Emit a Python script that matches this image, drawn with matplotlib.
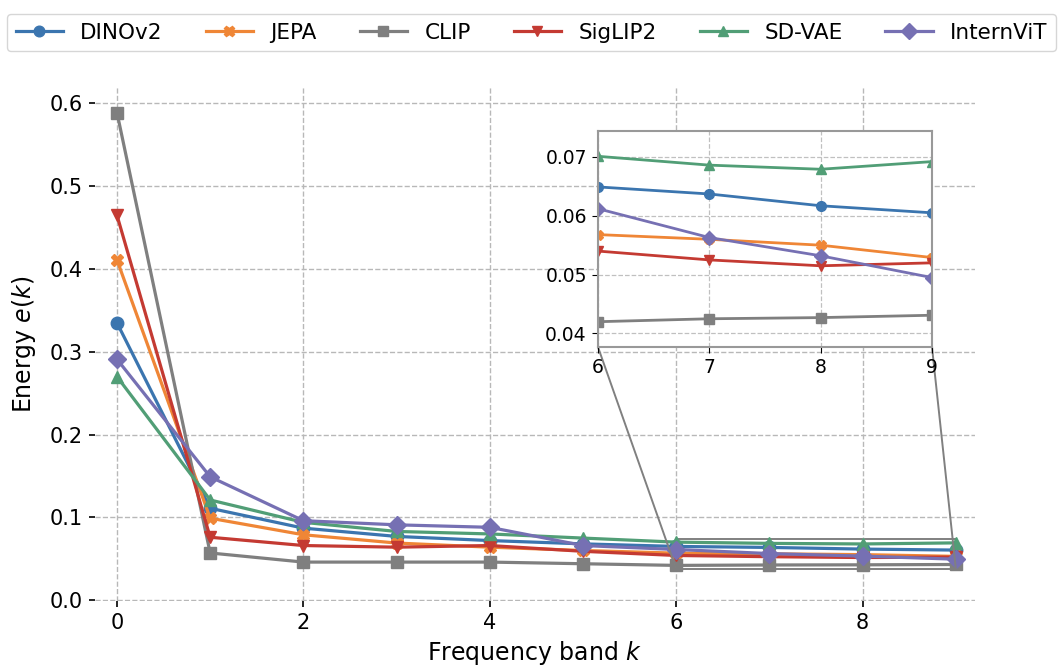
import matplotlib
matplotlib.use("Agg")
import matplotlib.pyplot as plt
from mpl_toolkits.axes_grid1.inset_locator import mark_inset

# frequency bands
bands = [0, 1, 2, 3, 4, 5, 6, 7, 8, 9]

# energy per band
dinov2 = [0.335, 0.111, 0.087, 0.077, 0.072, 0.068, 0.0649, 0.0637, 0.0617, 0.0605]
jepa = [0.411, 0.099, 0.079, 0.069, 0.064, 0.060, 0.0568, 0.0560, 0.0550, 0.0529]
clip = [0.589, 0.057, 0.046, 0.046, 0.046, 0.044, 0.0420, 0.0425, 0.0427, 0.0431]
siglip2 = [0.465, 0.076, 0.066, 0.064, 0.066, 0.059, 0.0540, 0.0525, 0.0515, 0.0520]
sdvae = [0.270, 0.121, 0.094, 0.083, 0.080, 0.075, 0.0701, 0.0686, 0.0679, 0.0692]
internvit = [0.291, 0.149, 0.096, 0.091, 0.088, 0.066, 0.0612, 0.0563, 0.0532, 0.0495]

names = ["DINOv2", "JEPA", "CLIP", "SigLIP2", "SD-VAE", "InternViT"]
series = [dinov2, jepa, clip, siglip2, sdvae, internvit]
colors = ["#3b75af", "#ef8636", "#7f7f7f", "#c43a32", "#519e76", "#7670b3"]
markers = ["o", "X", "s", "v", "^", "D"]

fig = plt.figure(figsize=(10.61, 6.68), dpi=100)
ax = fig.add_axes([0.0895, 0.1003, 0.8295, 0.7697])

for name, vals, c, m in zip(names, series, colors, markers):
    ax.plot(bands, vals, color=c, marker=m, lw=2.3, ms=9, label=name)

ax.set_xlim(-0.236, 9.206)
ax.set_ylim(-0.001, 0.62)
ax.set_xticks([0, 2, 4, 6, 8])
ax.set_yticks([0.0, 0.1, 0.2, 0.3, 0.4, 0.5, 0.6])
ax.tick_params(labelsize=15, length=4, width=1.2, pad=5)
ax.grid(True, ls="--", color="#b8b8b8", lw=1)
for s in ax.spines.values():
    s.set_visible(False)
ax.set_xlabel("Frequency band $k$", fontsize=17, labelpad=4)
ax.set_ylabel("Energy $e(k)$", fontsize=17, labelpad=8)

# zoomed inset for the tail
axins = fig.add_axes([0.5636, 0.4805, 0.3148, 0.3234])
for vals, c, m in zip(series, colors, markers):
    axins.plot(bands, vals, color=c, marker=m, lw=2, ms=7)
axins.set_xlim(6, 9)
axins.set_ylim(0.0377, 0.0744)
axins.set_xticks([6, 7, 8, 9])
axins.set_yticks([0.04, 0.05, 0.06, 0.07])
axins.tick_params(labelsize=13.5, length=4, pad=4)
axins.grid(True, ls="--", color="#c0c0c0", lw=0.9)
for s in axins.spines.values():
    s.set_color("#999999")
    s.set_linewidth(1.5)
mark_inset(ax, axins, loc1=3, loc2=4, fc="none", ec="#808080", lw=1.4)

fig.legend(loc="upper center", bbox_to_anchor=(0.501, 0.995), ncol=6,
           fontsize=15.5, handlelength=2.2, handletextpad=0.8,
           columnspacing=2.0, markerscale=0.85, edgecolor="#cccccc",
           fancybox=True)

fig.savefig("out.png", dpi=100)
